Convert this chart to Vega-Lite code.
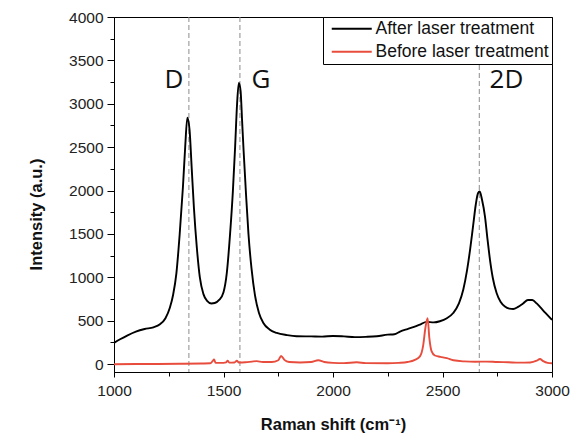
{
  "$schema": "https://vega.github.io/schema/vega-lite/v6.json",
  "width": 438,
  "height": 355,
  "autosize": {"type": "none"},
  "padding": {"left": 114, "top": 17, "right": 22, "bottom": 64},
  "background": "white",
  "config": {
    "view": {"stroke": "black", "strokeWidth": 1},
    "axis": {
      "domainColor": "black",
      "tickColor": "black",
      "labelColor": "#222",
      "labelFont": "Liberation Sans",
      "labelFontSize": 15.5,
      "titleFont": "Liberation Sans",
      "titleFontSize": 16.5,
      "titleFontWeight": "bold",
      "titleColor": "#111",
      "grid": false
    },
    "legend": {
      "orient": "top-right",
      "offset": 0,
      "strokeColor": "black",
      "fillColor": "white",
      "padding": 3,
      "title": null,
      "labelFont": "Liberation Sans",
      "labelFontSize": 17.5,
      "labelColor": "#111",
      "labelLimit": 300,
      "symbolType": "M-0.6,0H7.4",
      "symbolSize": 100,
      "symbolStrokeWidth": 2,
      "labelOffset": 32,
      "rowPadding": 4
    }
  },
  "datasets": {
    "spectra": [
      {"shift": 1000, "intensity": 245, "series": "After laser treatment"},
      {"shift": 1030, "intensity": 290, "series": "After laser treatment"},
      {"shift": 1060, "intensity": 330, "series": "After laser treatment"},
      {"shift": 1100, "intensity": 375, "series": "After laser treatment"},
      {"shift": 1140, "intensity": 405, "series": "After laser treatment"},
      {"shift": 1180, "intensity": 425, "series": "After laser treatment"},
      {"shift": 1210, "intensity": 460, "series": "After laser treatment"},
      {"shift": 1235, "intensity": 530, "series": "After laser treatment"},
      {"shift": 1255, "intensity": 650, "series": "After laser treatment"},
      {"shift": 1270, "intensity": 800, "series": "After laser treatment"},
      {"shift": 1285, "intensity": 1050, "series": "After laser treatment"},
      {"shift": 1300, "intensity": 1500, "series": "After laser treatment"},
      {"shift": 1315, "intensity": 2050, "series": "After laser treatment"},
      {"shift": 1325, "intensity": 2500, "series": "After laser treatment"},
      {"shift": 1335, "intensity": 2840, "series": "After laser treatment"},
      {"shift": 1345, "intensity": 2700, "series": "After laser treatment"},
      {"shift": 1355, "intensity": 2250, "series": "After laser treatment"},
      {"shift": 1365, "intensity": 1800, "series": "After laser treatment"},
      {"shift": 1378, "intensity": 1350, "series": "After laser treatment"},
      {"shift": 1392, "intensity": 1000, "series": "After laser treatment"},
      {"shift": 1408, "intensity": 810, "series": "After laser treatment"},
      {"shift": 1425, "intensity": 730, "series": "After laser treatment"},
      {"shift": 1445, "intensity": 700, "series": "After laser treatment"},
      {"shift": 1460, "intensity": 705, "series": "After laser treatment"},
      {"shift": 1480, "intensity": 740, "series": "After laser treatment"},
      {"shift": 1500, "intensity": 830, "series": "After laser treatment"},
      {"shift": 1515, "intensity": 1050, "series": "After laser treatment"},
      {"shift": 1530, "intensity": 1500, "series": "After laser treatment"},
      {"shift": 1543, "intensity": 2000, "series": "After laser treatment"},
      {"shift": 1553, "intensity": 2500, "series": "After laser treatment"},
      {"shift": 1562, "intensity": 3000, "series": "After laser treatment"},
      {"shift": 1570, "intensity": 3240, "series": "After laser treatment"},
      {"shift": 1578, "intensity": 3150, "series": "After laser treatment"},
      {"shift": 1585, "intensity": 2800, "series": "After laser treatment"},
      {"shift": 1592, "intensity": 2450, "series": "After laser treatment"},
      {"shift": 1603, "intensity": 1950, "series": "After laser treatment"},
      {"shift": 1614, "intensity": 1500, "series": "After laser treatment"},
      {"shift": 1628, "intensity": 1100, "series": "After laser treatment"},
      {"shift": 1644, "intensity": 790, "series": "After laser treatment"},
      {"shift": 1662, "intensity": 590, "series": "After laser treatment"},
      {"shift": 1682, "intensity": 475, "series": "After laser treatment"},
      {"shift": 1710, "intensity": 400, "series": "After laser treatment"},
      {"shift": 1743, "intensity": 360, "series": "After laser treatment"},
      {"shift": 1790, "intensity": 335, "series": "After laser treatment"},
      {"shift": 1834, "intensity": 322, "series": "After laser treatment"},
      {"shift": 1900, "intensity": 320, "series": "After laser treatment"},
      {"shift": 1950, "intensity": 318, "series": "After laser treatment"},
      {"shift": 2000, "intensity": 325, "series": "After laser treatment"},
      {"shift": 2050, "intensity": 320, "series": "After laser treatment"},
      {"shift": 2100, "intensity": 312, "series": "After laser treatment"},
      {"shift": 2150, "intensity": 315, "series": "After laser treatment"},
      {"shift": 2200, "intensity": 322, "series": "After laser treatment"},
      {"shift": 2250, "intensity": 340, "series": "After laser treatment"},
      {"shift": 2280, "intensity": 345, "series": "After laser treatment"},
      {"shift": 2306, "intensity": 375, "series": "After laser treatment"},
      {"shift": 2340, "intensity": 405, "series": "After laser treatment"},
      {"shift": 2370, "intensity": 430, "series": "After laser treatment"},
      {"shift": 2400, "intensity": 460, "series": "After laser treatment"},
      {"shift": 2427, "intensity": 488, "series": "After laser treatment"},
      {"shift": 2460, "intensity": 482, "series": "After laser treatment"},
      {"shift": 2488, "intensity": 495, "series": "After laser treatment"},
      {"shift": 2520, "intensity": 530, "series": "After laser treatment"},
      {"shift": 2549, "intensity": 590, "series": "After laser treatment"},
      {"shift": 2575, "intensity": 700, "series": "After laser treatment"},
      {"shift": 2595, "intensity": 860, "series": "After laser treatment"},
      {"shift": 2612, "intensity": 1080, "series": "After laser treatment"},
      {"shift": 2626, "intensity": 1320, "series": "After laser treatment"},
      {"shift": 2640, "intensity": 1600, "series": "After laser treatment"},
      {"shift": 2652, "intensity": 1840, "series": "After laser treatment"},
      {"shift": 2662, "intensity": 1970, "series": "After laser treatment"},
      {"shift": 2670, "intensity": 1990, "series": "After laser treatment"},
      {"shift": 2680, "intensity": 1900, "series": "After laser treatment"},
      {"shift": 2694, "intensity": 1700, "series": "After laser treatment"},
      {"shift": 2705, "intensity": 1450, "series": "After laser treatment"},
      {"shift": 2717, "intensity": 1200, "series": "After laser treatment"},
      {"shift": 2730, "intensity": 990, "series": "After laser treatment"},
      {"shift": 2747, "intensity": 820, "series": "After laser treatment"},
      {"shift": 2765, "intensity": 720, "series": "After laser treatment"},
      {"shift": 2785, "intensity": 665, "series": "After laser treatment"},
      {"shift": 2805, "intensity": 640, "series": "After laser treatment"},
      {"shift": 2823, "intensity": 635, "series": "After laser treatment"},
      {"shift": 2845, "intensity": 660, "series": "After laser treatment"},
      {"shift": 2868, "intensity": 700, "series": "After laser treatment"},
      {"shift": 2890, "intensity": 740, "series": "After laser treatment"},
      {"shift": 2910, "intensity": 740, "series": "After laser treatment"},
      {"shift": 2930, "intensity": 700, "series": "After laser treatment"},
      {"shift": 2945, "intensity": 660, "series": "After laser treatment"},
      {"shift": 2970, "intensity": 590, "series": "After laser treatment"},
      {"shift": 3000, "intensity": 510, "series": "After laser treatment"},
      {"shift": 1000, "intensity": 0, "series": "Before laser treatment"},
      {"shift": 1100, "intensity": 2, "series": "Before laser treatment"},
      {"shift": 1200, "intensity": 3, "series": "Before laser treatment"},
      {"shift": 1300, "intensity": 5, "series": "Before laser treatment"},
      {"shift": 1400, "intensity": 8, "series": "Before laser treatment"},
      {"shift": 1440, "intensity": 10, "series": "Before laser treatment"},
      {"shift": 1450, "intensity": 35, "series": "Before laser treatment"},
      {"shift": 1457, "intensity": 55, "series": "Before laser treatment"},
      {"shift": 1464, "intensity": 15, "series": "Before laser treatment"},
      {"shift": 1500, "intensity": 15, "series": "Before laser treatment"},
      {"shift": 1512, "intensity": 20, "series": "Before laser treatment"},
      {"shift": 1519, "intensity": 40, "series": "Before laser treatment"},
      {"shift": 1526, "intensity": 18, "series": "Before laser treatment"},
      {"shift": 1550, "intensity": 20, "series": "Before laser treatment"},
      {"shift": 1561, "intensity": 40, "series": "Before laser treatment"},
      {"shift": 1570, "intensity": 20, "series": "Before laser treatment"},
      {"shift": 1600, "intensity": 22, "series": "Before laser treatment"},
      {"shift": 1630, "intensity": 30, "series": "Before laser treatment"},
      {"shift": 1651, "intensity": 35, "series": "Before laser treatment"},
      {"shift": 1680, "intensity": 25, "series": "Before laser treatment"},
      {"shift": 1720, "intensity": 25, "series": "Before laser treatment"},
      {"shift": 1750, "intensity": 45, "series": "Before laser treatment"},
      {"shift": 1763, "intensity": 95, "series": "Before laser treatment"},
      {"shift": 1778, "intensity": 50, "series": "Before laser treatment"},
      {"shift": 1800, "intensity": 25, "series": "Before laser treatment"},
      {"shift": 1850, "intensity": 20, "series": "Before laser treatment"},
      {"shift": 1900, "intensity": 25, "series": "Before laser treatment"},
      {"shift": 1933, "intensity": 45, "series": "Before laser treatment"},
      {"shift": 1960, "intensity": 25, "series": "Before laser treatment"},
      {"shift": 2000, "intensity": 15, "series": "Before laser treatment"},
      {"shift": 2050, "intensity": 12, "series": "Before laser treatment"},
      {"shift": 2108, "intensity": 22, "series": "Before laser treatment"},
      {"shift": 2150, "intensity": 12, "series": "Before laser treatment"},
      {"shift": 2250, "intensity": 10, "series": "Before laser treatment"},
      {"shift": 2300, "intensity": 15, "series": "Before laser treatment"},
      {"shift": 2340, "intensity": 25, "series": "Before laser treatment"},
      {"shift": 2374, "intensity": 50, "series": "Before laser treatment"},
      {"shift": 2397, "intensity": 90, "series": "Before laser treatment"},
      {"shift": 2412, "intensity": 220, "series": "Before laser treatment"},
      {"shift": 2422, "intensity": 420, "series": "Before laser treatment"},
      {"shift": 2432, "intensity": 530, "series": "Before laser treatment"},
      {"shift": 2440, "intensity": 300, "series": "Before laser treatment"},
      {"shift": 2450, "intensity": 150, "series": "Before laser treatment"},
      {"shift": 2465, "intensity": 100, "series": "Before laser treatment"},
      {"shift": 2490, "intensity": 85, "series": "Before laser treatment"},
      {"shift": 2520, "intensity": 70, "series": "Before laser treatment"},
      {"shift": 2550, "intensity": 45, "series": "Before laser treatment"},
      {"shift": 2600, "intensity": 32, "series": "Before laser treatment"},
      {"shift": 2650, "intensity": 28, "series": "Before laser treatment"},
      {"shift": 2700, "intensity": 30, "series": "Before laser treatment"},
      {"shift": 2750, "intensity": 25, "series": "Before laser treatment"},
      {"shift": 2800, "intensity": 22, "series": "Before laser treatment"},
      {"shift": 2850, "intensity": 18, "series": "Before laser treatment"},
      {"shift": 2900, "intensity": 20, "series": "Before laser treatment"},
      {"shift": 2930, "intensity": 40, "series": "Before laser treatment"},
      {"shift": 2945, "intensity": 60, "series": "Before laser treatment"},
      {"shift": 2960, "intensity": 35, "series": "Before laser treatment"},
      {"shift": 2980, "intensity": 15, "series": "Before laser treatment"},
      {"shift": 3000, "intensity": 10, "series": "Before laser treatment"}
    ],
    "peaks": [
      {"position": 1342, "label": "D", "labelShift": 1274, "labelIntensity": 3277},
      {"position": 1575, "label": "G", "labelShift": 1671, "labelIntensity": 3277},
      {"position": 2668, "label": "2D", "labelShift": 2792, "labelIntensity": 3277}
    ]
  },
  "resolve": {"axis": {"x": "independent", "y": "independent"}},
  "layer": [
    {
      "data": {"name": "spectra"},
      "mark": {"type": "line", "opacity": 0},
      "encoding": {
        "x": {
          "field": "shift", "type": "quantitative",
          "scale": {"domain": [1000, 3000], "nice": false, "zero": false},
          "axis": {"orient": "bottom", "values": [1250, 1750, 2250, 2750], "labels": false, "tickSize": 4, "domain": false, "title": null}
        },
        "y": {
          "field": "intensity", "type": "quantitative",
          "scale": {"domain": [-90, 4000], "nice": false, "zero": false},
          "axis": {"orient": "left", "values": [250, 750, 1250, 1750, 2250, 2750, 3250, 3750], "labels": false, "tickSize": 4, "domain": false, "title": null}
        },
        "detail": {"field": "series"}
      }
    },
    {
      "data": {"name": "peaks"},
      "mark": {"type": "rule", "color": "#8c8c8c", "strokeDash": [5, 3], "strokeWidth": 1},
      "encoding": {
        "x": {"field": "position", "type": "quantitative", "scale": {"domain": [1000, 3000], "nice": false, "zero": false}, "axis": null}
      }
    },
    {
      "data": {"name": "spectra"},
      "mark": {"type": "line", "interpolate": "monotone", "strokeWidth": 1.9},
      "encoding": {
        "x": {
          "field": "shift", "type": "quantitative",
          "scale": {"domain": [1000, 3000], "nice": false, "zero": false},
          "axis": {"orient": "bottom", "values": [1000, 1500, 2000, 2500, 3000], "format": "d", "tickSize": 5, "labelPadding": 6, "labelFlush": false, "labelOverlap": false, "title": "Raman shift (cm⁻¹)", "titlePadding": 18}
        },
        "y": {
          "field": "intensity", "type": "quantitative",
          "scale": {"domain": [-90, 4000], "nice": false, "zero": false},
          "axis": {"orient": "left", "values": [0, 500, 1000, 1500, 2000, 2500, 3000, 3500, 4000], "format": "d", "tickSize": 7, "labelPadding": 4, "labelFlush": false, "labelOverlap": false, "title": "Intensity (a.u.)", "titleX": -70, "titleY": 197}
        },
        "color": {
          "field": "series", "type": "nominal",
          "scale": {"domain": ["After laser treatment", "Before laser treatment"], "range": ["#000000", "#e84c3d"]}
        }
      }
    },
    {
      "data": {"name": "peaks"},
      "mark": {"type": "text", "font": "Open Sans", "fontSize": 26, "color": "#111", "align": "center", "baseline": "middle"},
      "encoding": {
        "x": {"field": "labelShift", "type": "quantitative", "scale": {"domain": [1000, 3000], "nice": false, "zero": false}, "axis": null},
        "y": {"field": "labelIntensity", "type": "quantitative", "scale": {"domain": [-90, 4000], "nice": false, "zero": false}, "axis": null},
        "text": {"field": "label"}
      }
    }
  ]
}
